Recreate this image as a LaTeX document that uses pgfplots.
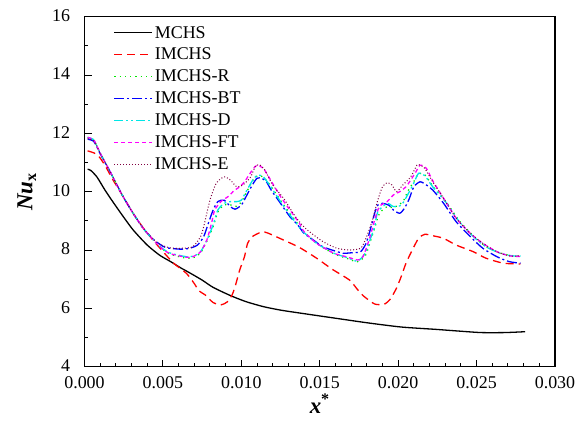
\documentclass[border=0pt]{standalone}
\usepackage{fontspec}
\setmainfont{Liberation Serif}
\usepackage{pgfplots}
\pgfplotsset{compat=1.18}
\definecolor{wine}{RGB}{128,0,64}
\definecolor{mygreen}{RGB}{0,230,0}
\definecolor{myred}{RGB}{255,0,0}
\definecolor{mycyan}{RGB}{0,230,230}
\definecolor{myblue}{RGB}{0,0,255}
\definecolor{mymagenta}{RGB}{255,0,255}
\begin{document}
\begin{tikzpicture}
\begin{axis}[
  at={(0,0)}, anchor=south west,
  scale only axis, width=470.5bp, height=350bp,
  xmin=0, xmax=0.03, ymin=4, ymax=16,
  xtick={0,0.005,0.01,0.015,0.02,0.025,0.03},
  ytick={4,6,8,10,12,14,16},
  minor x tick num=4, minor y tick num=1,
  scaled ticks=false,
  xticklabel style={yshift=-6bp, /pgf/number format/.cd, fixed, fixed zerofill, precision=3},
  /pgf/number format/assume math mode=true,
  tick align=inside, xtick pos=bottom, ytick pos=left,
  major tick length=7bp, minor tick length=4bp,
  axis line style={line width=1.3bp},
  every tick/.style={line width=1bp, black},
  tick label style={font=\fontsize{18}{20}\selectfont},
  yticklabel style={xshift=-11bp, yshift=1bp},
  xlabel={{\bfseries\itshape x}\textsuperscript{\bfseries *}},
  ylabel={{\bfseries\itshape Nu}\textsubscript{\bfseries x}},
  label style={font=\fontsize{23}{26}\selectfont},
  ylabel style={yshift=9bp},
  xlabel style={yshift=1bp},
  legend cell align=left,
  legend style={draw=none, fill=none, at={(0.055,0.985)}, anchor=north west,
    font=\fontsize{18}{20}\selectfont, row sep=4.6bp},
  legend image code/.code={\draw[#1] (0bp,0bp) -- (38bp,0bp);},
  every axis plot/.append style={line width=1.3bp, smooth, tension=0.4},
]
% MCHS
\addplot[draw=black, solid] coordinates {
(0.0002,10.77) (0.0004,10.73) (0.0008,10.50) (0.0013,10.06) (0.0018,9.66) (0.0024,9.20)
(0.0031,8.69) (0.0040,8.17) (0.0048,7.82) (0.0055,7.60) (0.0061,7.40) (0.0067,7.22)
(0.0075,6.97) (0.0082,6.72) (0.0093,6.44) (0.0103,6.23) (0.0114,6.06) (0.0125,5.94)
(0.0136,5.85) (0.0159,5.67) (0.0181,5.50) (0.0202,5.36) (0.0224,5.28) (0.0239,5.22)
(0.0253,5.17) (0.0268,5.17) (0.0281,5.20)};
\addlegendentry{MCHS}
% IMCHS
\addplot[draw=myred, dash pattern=on 8bp off 5bp] coordinates {
(0.0002,11.40) (0.0006,11.33) (0.0009,11.22) (0.0013,10.91) (0.0018,10.42) (0.0024,9.89)
(0.0031,9.26) (0.0038,8.72) (0.0044,8.32) (0.0050,7.95) (0.0057,7.54) (0.0065,7.20)
(0.0070,6.85) (0.0073,6.60) (0.0077,6.46) (0.0082,6.20) (0.0087,6.12) (0.0091,6.22)
(0.0094,6.45) (0.0096,6.74) (0.0099,7.32) (0.0102,7.77) (0.0104,8.23) (0.0107,8.46)
(0.0113,8.62) (0.0117,8.58) (0.0127,8.34) (0.0137,8.09) (0.0148,7.72) (0.0158,7.34)
(0.0169,6.97) (0.0174,6.65) (0.0178,6.42) (0.0185,6.15) (0.0191,6.14) (0.0195,6.32)
(0.0199,6.70) (0.0202,7.10) (0.0205,7.55) (0.0209,8.0) (0.0213,8.40) (0.0217,8.54)
(0.0223,8.48) (0.0229,8.40) (0.0237,8.17) (0.0248,7.94) (0.0256,7.72) (0.0267,7.55)
(0.0278,7.52)};
\addlegendentry{IMCHS}
% IMCHS-R
\addplot[draw=mygreen, dash pattern=on 1.3bp off 4bp] coordinates {
(0.0002,11.86) (0.0006,11.77) (0.0010,11.32) (0.0016,10.72) (0.0024,9.89) (0.0031,9.26)
(0.00375,8.74) (0.0044,8.34) (0.0050,8.02) (0.0055,7.85) (0.0065,7.72) (0.0070,7.75) (0.0074,7.90)
(0.0078,8.30) (0.0082,8.80) (0.0085,9.30) (0.0089,9.55) (0.0093,9.55) (0.0097,9.50)
(0.0100,9.65) (0.0103,9.95) (0.0108,10.45) (0.0111,10.55) (0.0114,10.50) (0.0118,10.25)
(0.0125,9.70) (0.0131,9.25) (0.0136,8.90) (0.0140,8.62) (0.0148,8.23) (0.0159,7.87)
(0.0167,7.72) (0.0174,7.60) (0.0179,7.80) (0.0182,8.25) (0.0185,8.75) (0.0188,9.25)
(0.0193,9.49) (0.0197,9.45) (0.0203,9.66) (0.0206,10.0) (0.0210,10.35) (0.0213,10.62)
(0.0217,10.58) (0.0222,10.20) (0.0231,9.62) (0.0239,9.0) (0.0248,8.48) (0.0256,8.12)
(0.0265,7.90) (0.0273,7.80) (0.0278,7.80)};
\addlegendentry{IMCHS-R}
% IMCHS-BT
\addplot[draw=myblue, dash pattern=on 10bp off 3bp on 2bp off 3bp] coordinates {
(0.0002,11.80) (0.0006,11.72) (0.0010,11.30) (0.0016,10.72) (0.0024,9.89) (0.0031,9.26)
(0.00375,8.74) (0.0044,8.36) (0.0048,8.20) (0.0052,8.08) (0.0061,8.03) (0.0067,8.06)
(0.0072,8.17) (0.0076,8.46) (0.0079,8.92) (0.0082,9.37) (0.0085,9.66) (0.0089,9.71)
(0.0093,9.49) (0.0096,9.40) (0.0100,9.54) (0.0103,9.83) (0.0107,10.23) (0.0110,10.46)
(0.0113,10.46) (0.0116,10.34) (0.0119,10.06) (0.0125,9.60) (0.0131,9.14) (0.0136,8.86)
(0.0140,8.57) (0.0146,8.34) (0.0152,8.11) (0.0159,7.98) (0.0165,7.89) (0.0171,7.91)
(0.0176,7.94) (0.0179,8.17) (0.0181,8.46) (0.0183,8.86) (0.0185,9.26) (0.0187,9.54)
(0.0190,9.60) (0.0194,9.54) (0.0197,9.37) (0.0201,9.26) (0.0204,9.43) (0.0207,9.75)
(0.0210,10.17) (0.0214,10.34) (0.0218,10.23) (0.0222,10.06) (0.0229,9.60) (0.0237,8.97)
(0.0246,8.46) (0.0254,8.06) (0.0263,7.77) (0.0271,7.60) (0.0278,7.55)};
\addlegendentry{IMCHS-BT}
% IMCHS-D
\addplot[draw=mycyan, dash pattern=on 9bp off 3bp on 2bp off 3bp on 2bp off 3bp] coordinates {
(0.0002,11.86) (0.0006,11.77) (0.0010,11.32) (0.0016,10.72) (0.0024,9.89) (0.0031,9.26)
(0.00375,8.74) (0.0044,8.34) (0.0050,8.04) (0.0055,7.89) (0.0065,7.77) (0.0070,7.80) (0.0074,7.94)
(0.0078,8.34) (0.0082,8.86) (0.0085,9.37) (0.0089,9.60) (0.0093,9.66) (0.0097,9.66)
(0.0100,9.71) (0.0103,10.0) (0.0108,10.46) (0.0111,10.57) (0.0114,10.51) (0.0118,10.23)
(0.0125,9.66) (0.0131,9.20) (0.0136,8.86) (0.0140,8.60) (0.0148,8.23) (0.0159,7.89)
(0.0167,7.75) (0.0174,7.62) (0.0179,7.89) (0.0182,8.34) (0.0185,8.80) (0.0187,9.31)
(0.0193,9.60) (0.0197,9.49) (0.0202,9.54) (0.0206,9.89) (0.0210,10.30) (0.0213,10.63)
(0.0217,10.55) (0.0222,10.17) (0.0231,9.60) (0.0239,8.97) (0.0248,8.46) (0.0256,8.11)
(0.0265,7.89) (0.0273,7.80) (0.0278,7.80)};
\addlegendentry{IMCHS-D}
% IMCHS-FT
\addplot[draw=mymagenta, dash pattern=on 4bp off 3bp] coordinates {
(0.0002,11.86) (0.0006,11.77) (0.0010,11.32) (0.0016,10.72) (0.0024,9.89) (0.0031,9.26)
(0.00375,8.74) (0.0044,8.34) (0.0050,8.02) (0.0055,7.87) (0.0065,7.75) (0.0069,7.77) (0.0074,7.94)
(0.0078,8.34) (0.0081,8.92) (0.0083,9.37) (0.0087,9.66) (0.0092,9.85) (0.0095,10.02)
(0.0099,10.17) (0.0102,10.34) (0.0107,10.74) (0.0110,10.91) (0.0114,10.80) (0.0118,10.46)
(0.0125,9.83) (0.0131,9.37) (0.0137,8.92) (0.0140,8.63) (0.0148,8.23) (0.0159,7.89)
(0.0167,7.77) (0.0174,7.66) (0.0177,7.72) (0.0180,8.11) (0.0183,8.63) (0.0185,9.03)
(0.0188,9.49) (0.0193,9.66) (0.0197,9.89) (0.0201,10.0) (0.0205,10.17) (0.0208,10.40)
(0.0211,10.65) (0.0214,10.91) (0.0218,10.80) (0.0222,10.38) (0.0229,9.77) (0.0237,9.09)
(0.0246,8.57) (0.0254,8.23) (0.0263,7.94) (0.0271,7.80) (0.0278,7.78)};
\addlegendentry{IMCHS-FT}
% IMCHS-E
\addplot[draw=wine, dash pattern=on 1bp off 2bp, line width=1bp] coordinates {
(0.0002,11.82) (0.0006,11.74) (0.0010,11.32) (0.0016,10.72) (0.0024,9.89) (0.0031,9.26)
(0.00375,8.74) (0.0044,8.36) (0.0048,8.20) (0.0054,8.08) (0.0061,8.06) (0.0069,8.11)
(0.0074,8.46) (0.0076,8.80) (0.0080,9.71) (0.0084,10.29) (0.0089,10.51) (0.0093,10.40)
(0.0097,10.17) (0.0101,10.23) (0.0106,10.51) (0.0109,10.88) (0.0112,10.91) (0.0115,10.74)
(0.0120,10.23) (0.0127,9.77) (0.0133,9.26) (0.0137,8.97) (0.0142,8.69) (0.0152,8.29)
(0.0161,8.06) (0.0169,8.0) (0.0176,8.06) (0.0179,8.34) (0.0183,8.92) (0.0187,9.71)
(0.0190,10.17) (0.0193,10.31) (0.0196,10.23) (0.0199,10.0) (0.0203,10.23) (0.0208,10.51)
(0.0212,10.91) (0.0214,10.91) (0.0217,10.80) (0.0222,10.34) (0.0229,9.77) (0.0237,9.09)
(0.0246,8.57) (0.0254,8.23) (0.0263,7.94) (0.0271,7.80) (0.0278,7.80)};
\addlegendentry{IMCHS-E}
\end{axis}
\pgfresetboundingbox
\path[use as bounding box] (-84.5bp,-63.3bp) rectangle (492.5bp,366.7bp);
\end{tikzpicture}
\end{document}
